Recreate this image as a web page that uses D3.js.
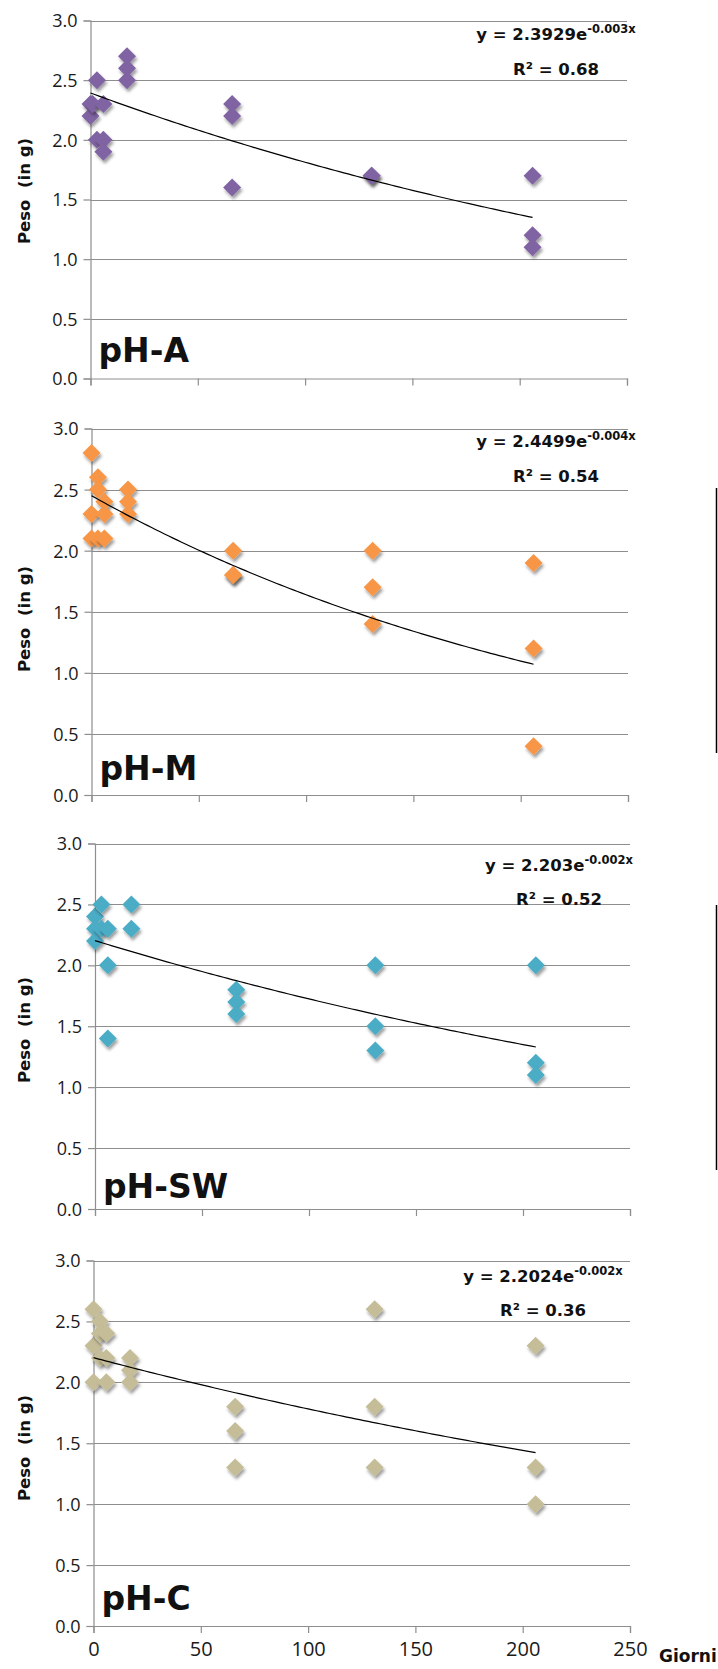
<!DOCTYPE html>
<html>
<head>
<meta charset="utf-8">
<script src="https://cdn.jsdelivr.net/npm/d3@7"></script>
<style>
  html, body { margin: 0; padding: 0; background: #fff; }
  svg { display: block; }
</style>
</head>
<body>
<svg id="chart" width="718" height="1669"></svg>
<script>
// ---------------- DATA ----------------
const panelNames = ["pH-A", "pH-M", "pH-SW", "pH-C"];

const phA_days = [0, 0, 1, 3, 3, 6, 6, 6, 17, 17, 17, 66, 66, 66, 131, 131, 206, 206, 206];
const phA_peso = [2.3, 2.2, 2.3, 2.5, 2.0, 2.3, 2.0, 1.9, 2.7, 2.6, 2.5, 2.3, 2.2, 1.6, 1.7, 1.7, 1.7, 1.2, 1.1];

const phM_days = [0, 0, 0, 3, 3, 3, 6, 6, 6, 17, 17, 17, 66, 66, 66, 131, 131, 131, 206, 206, 206];
const phM_peso = [2.8, 2.3, 2.1, 2.6, 2.5, 2.1, 2.4, 2.3, 2.1, 2.5, 2.4, 2.3, 2.0, 1.8, 1.8, 2.0, 1.7, 1.4, 1.9, 1.2, 0.4];

const phSW_days = [0, 0, 0, 3, 3, 6, 6, 6, 17, 17, 66, 66, 66, 131, 131, 131, 206, 206, 206];
const phSW_peso = [2.4, 2.3, 2.2, 2.5, 2.3, 2.3, 2.0, 1.4, 2.5, 2.3, 1.8, 1.7, 1.6, 2.0, 1.5, 1.3, 2.0, 1.2, 1.1];

const phC_days = [0, 0, 0, 3, 3, 3, 6, 6, 6, 17, 17, 17, 66, 66, 66, 131, 131, 131, 206, 206, 206];
const phC_peso = [2.6, 2.3, 2.0, 2.5, 2.4, 2.2, 2.4, 2.2, 2.0, 2.2, 2.1, 2.0, 1.8, 1.6, 1.3, 2.6, 1.8, 1.3, 2.3, 1.3, 1.0];

// exponential trendlines y = a * e^(k x), a from the labels, k
const trendA = [2.3929, 2.4499, 2.203, 2.2024];
const trendK = [-0.00278, -0.00402, -0.00245, -0.00212];
const trendEnd = 206;

const eqMain = ["y = 2.3929e", "y = 2.4499e", "y = 2.203e", "y = 2.2024e"];
const eqExp = ["-0.003x", "-0.004x", "-0.002x", "-0.002x"];
const r2Labels = ["R² = 0.68", "R² = 0.54", "R² = 0.52", "R² = 0.36"];

const yTicks = [0, 0.5, 1.0, 1.5, 2.0, 2.5, 3.0];
const xTicks = [0, 50, 100, 150, 200, 250];
const yLabel = "Peso  (in g)";
const xLabel = "Giorni";

const colors = ["#8064A2", "#F79646", "#4BACC6", "#C4BD97"];

// ---------------- LAYOUT ----------------
const layout = [
  { left: 90.5, right: 627, top: 20.5, bottom: 378.5, eqX: 556, eqY: 40, r2Y: 75, labY: 191, nameY: 362 },
  { left: 91.5, right: 628, top: 428.5, bottom: 795, eqX: 556, eqY: 447, r2Y: 482, labY: 619, nameY: 780 },
  { left: 95, right: 630, top: 843.5, bottom: 1209, eqX: 559, eqY: 871, r2Y: 905, labY: 1030, nameY: 1198 },
  { left: 93.5, right: 630, top: 1260.5, bottom: 1626, eqX: 543, eqY: 1282, r2Y: 1316, labY: 1448, nameY: 1610 }
];

const series = [
  { days: phA_days, peso: phA_peso },
  { days: phM_days, peso: phM_peso },
  { days: phSW_days, peso: phSW_peso },
  { days: phC_days, peso: phC_peso }
];

const svg = d3.select("#chart");

const defs = svg.append("defs");
const f = defs.append("filter").attr("id", "shadow")
  .attr("x", "-50%").attr("y", "-50%").attr("width", "200%").attr("height", "200%");
f.append("feDropShadow").attr("dx", 1.5).attr("dy", 3).attr("stdDeviation", 1.6)
  .attr("flood-color", "#000").attr("flood-opacity", 0.38);

const gridColor = "#8e8e8e";
const tickFont = "'Open Sans', 'Noto Sans', sans-serif";
const boldFont = "'DejaVu Sans', sans-serif";

const diamond = "M0,-9L9,0L0,9L-9,0Z";

layout.forEach((L, i) => {
  const g = svg.append("g");
  const x = d3.scaleLinear().domain([0, 250]).range([L.left, L.right]);
  const y = d3.scaleLinear().domain([0, 3]).range([L.bottom, L.top]);

  // horizontal gridlines
  g.append("g").selectAll("line").data(yTicks.filter(t => t > 0)).join("line")
    .attr("x1", L.left).attr("x2", L.right)
    .attr("y1", d => Math.round(y(d)) + 0.5).attr("y2", d => Math.round(y(d)) + 0.5)
    .attr("stroke", gridColor).attr("stroke-width", 1.2);

  // y axis
  const yAxis = d3.axisLeft(y).tickValues(yTicks).tickSize(7).tickPadding(6)
    .tickFormat(d3.format(".1f"));
  const ya = g.append("g").attr("transform", `translate(${L.left},0)`).call(yAxis);
  ya.select(".domain").attr("stroke", gridColor).attr("stroke-width", 1.2);
  ya.selectAll(".tick line").attr("stroke", gridColor).attr("stroke-width", 1.2);
  ya.selectAll(".tick text").attr("font-family", tickFont).attr("font-size", 18)
    .attr("fill", "#1a1a1a").attr("dy", "0.36em");

  // x axis
  const xAxis = d3.axisBottom(x).tickValues(xTicks).tickSize(7).tickPadding(9)
    .tickFormat(i === 3 ? d3.format("d") : () => "");
  const xa = g.append("g").attr("transform", `translate(0,${L.bottom})`).call(xAxis);
  xa.select(".domain").attr("stroke", gridColor).attr("stroke-width", 1.2);
  xa.selectAll(".tick line").attr("stroke", gridColor).attr("stroke-width", 1.2);
  xa.selectAll(".tick text").attr("font-family", tickFont).attr("font-size", 20)
    .attr("fill", "#1a1a1a");

  // points
  const S = series[i];
  g.append("g").selectAll("path").data(S.days.map((d, j) => [d, S.peso[j]])).join("path")
    .attr("d", diamond)
    .attr("transform", d => `translate(${x(d[0])},${y(d[1])})`)
    .attr("fill", colors[i])
    .attr("filter", "url(#shadow)");

  // trendline
  const tx = d3.range(0, trendEnd + 0.001, 2);
  const line = d3.line().x(d => x(d)).y(d => y(trendA[i] * Math.exp(trendK[i] * d)));
  g.append("path").datum(tx).attr("d", line)
    .attr("fill", "none").attr("stroke", "#000").attr("stroke-width", 1.2);

  // equation labels
  const eq = g.append("text").attr("x", L.eqX).attr("y", L.eqY)
    .attr("text-anchor", "middle").attr("font-family", boldFont)
    .attr("font-weight", "bold").attr("font-size", 16.5).attr("fill", "#111")
    .style("white-space", "pre");
  eq.append("tspan").text(eqMain[i]);
  eq.append("tspan").attr("dy", -7).attr("font-size", 11.5).text(eqExp[i]);

  g.append("text").attr("x", L.eqX).attr("y", L.r2Y)
    .attr("text-anchor", "middle").attr("font-family", boldFont)
    .attr("font-weight", "bold").attr("font-size", 16.5).attr("fill", "#111")
    .text(r2Labels[i]);

  // y label
  g.append("text")
    .attr("transform", `translate(30,${L.labY}) rotate(-90)`)
    .attr("text-anchor", "middle").attr("font-family", boldFont)
    .attr("font-weight", "bold").attr("font-size", 16.5).attr("fill", "#111")
    .style("white-space", "pre")
    .text(yLabel);

  // panel name
  g.append("text").attr("x", L.left + 8).attr("y", L.nameY)
    .attr("font-family", boldFont).attr("font-weight", "bold")
    .attr("font-size", 33).attr("fill", "#111")
    .text(panelNames[i]);
});

// x-axis title
svg.append("text").attr("x", 659).attr("y", 1662)
  .attr("font-family", boldFont).attr("font-weight", "bold")
  .attr("font-size", 17).attr("fill", "#111").text(xLabel);

// stray border lines at right edge (from adjacent figure)
[[488, 753], [905, 1170]].forEach(([a, b]) => {
  svg.append("line").attr("x1", 716.5).attr("x2", 716.5).attr("y1", a).attr("y2", b)
    .attr("stroke", "#000").attr("stroke-width", 1.5);
});
</script>
</body>
</html>
